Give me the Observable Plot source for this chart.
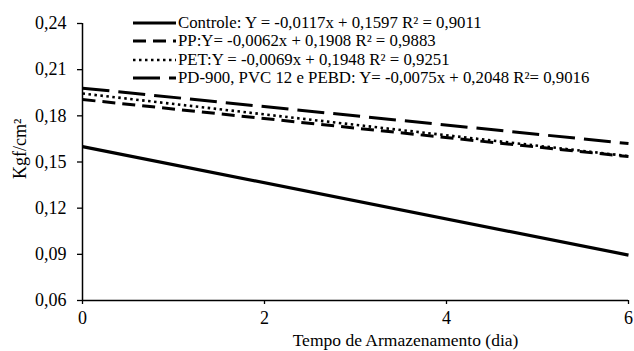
<!DOCTYPE html>
<html>
<head>
<meta charset="utf-8">
<script src="https://cdn.jsdelivr.net/npm/d3@7"></script>
<script src="https://cdn.jsdelivr.net/npm/@observablehq/plot@0.6"></script>
</head>
<body style="margin:0;padding:0;background:#fff;">
<div id="wrap" style="position:relative;width:634px;height:351px;font-family:'Liberation Serif';"></div>
<script>
// Values (line ends at day 0 and day 6)
const days = [0, 6];
const seriesNames = [
  "Controle",
  "PP",
  "PET",
  "PD-900, PVC 12 e PEBD"
];
const controleValues = [0.160, 0.0895];
const ppValues = [0.1906, 0.1535];
const petValues = [0.1945, 0.1538];
const pdValues = [0.198, 0.162];
const legendLabels = [
  "Controle: Y = -0,0117x + 0,1597 R² = 0,9011",
  "PP:Y= -0,0062x + 0,1908 R² = 0,9883",
  "PET:Y = -0,0069x + 0,1948 R² = 0,9251",
  "PD-900, PVC 12 e PEBD: Y= -0,0075x + 0,2048 R²= 0,9016"
];
const yTicks = [0.06, 0.09, 0.12, 0.15, 0.18, 0.21, 0.24];
const xTicks = [0, 2, 4, 6];

const FONT = "Liberation Serif";
const styles = [
  {dash: null, width: 3.2},
  {dash: "13,7", width: 3},
  {dash: "2.5,3.5", width: 2.6},
  {dash: "27,9", width: 3}
];
const allValues = [controleValues, ppValues, petValues, pdValues];
const rows = [];
seriesNames.forEach((s, i) => days.forEach((d, j) => rows.push({series: s, day: d, value: allValues[i][j]})));

const fmt = d => d3.format(".2f")(d).replace(".", ",");

const marks = [];
seriesNames.forEach((s, i) => {
  marks.push(Plot.line(rows.filter(r => r.series === s), {
    x: "day", y: "value", stroke: "#000",
    strokeWidth: styles[i].width,
    strokeDasharray: styles[i].dash || undefined,
    strokeLinecap: "butt"
  }));
});

const chart = Plot.plot({
  width: 634,
  height: 351,
  marginLeft: 82,
  marginRight: 6,
  marginTop: 23,
  marginBottom: 51,
  style: {fontFamily: FONT, fontSize: "18px", color: "#000", background: "#fff"},
  x: {domain: [0, 6]},
  y: {domain: [0.06, 0.24]},
  marks: [
    Plot.axisY({ticks: yTicks, tickFormat: fmt, tickSize: 5, tickPadding: 11, label: null, fontSize: 18, fontFamily: FONT, strokeWidth: 1.3}),
    Plot.axisX({ticks: xTicks, tickFormat: d => String(d), tickSize: 4, tickPadding: 7, label: null, fontSize: 18, fontFamily: FONT, strokeWidth: 1.3}),
    Plot.ruleX([0], {stroke: "#000", strokeWidth: 1.5}),
    Plot.ruleY([0.06], {stroke: "#000", strokeWidth: 1.5}),
    ...marks,
    Plot.text(["Kgf/cm²"], {frameAnchor: "left", dx: -62, dy: 17, rotate: -90, fontSize: 18, fontFamily: FONT, fill: "#000"}),
    Plot.text(["Tempo de Armazenamento (dia)"], {frameAnchor: "bottom", dx: 50, dy: 45.5, fontSize: 17.5, fontFamily: FONT, fill: "#000"})
  ]
});
chart.setAttribute("font-family", FONT);

const wrap = document.getElementById("wrap");
wrap.appendChild(chart);

const legend = document.createElement("div");
legend.setAttribute("style", `position:absolute;left:133px;top:14px;font-family:'${FONT}';font-size:16.8px;color:#000;`);
legendLabels.forEach((lab, i) => {
  const row = document.createElement("div");
  row.setAttribute("style", "display:flex;align-items:center;height:18.3px;white-space:nowrap;");
  const st = styles[i];
  row.innerHTML = `<svg width="43" height="10" viewBox="0 0 43 10" style="flex:none;margin-right:2px;"><line x1="0" y1="5" x2="43" y2="5" stroke="#000" stroke-width="${st.width}" ${st.dash ? `stroke-dasharray="${st.dash}"` : ""}/></svg><span style="font-family:'${FONT}'">${lab}</span>`;
  legend.appendChild(row);
});
wrap.appendChild(legend);
</script>
</body>
</html>
